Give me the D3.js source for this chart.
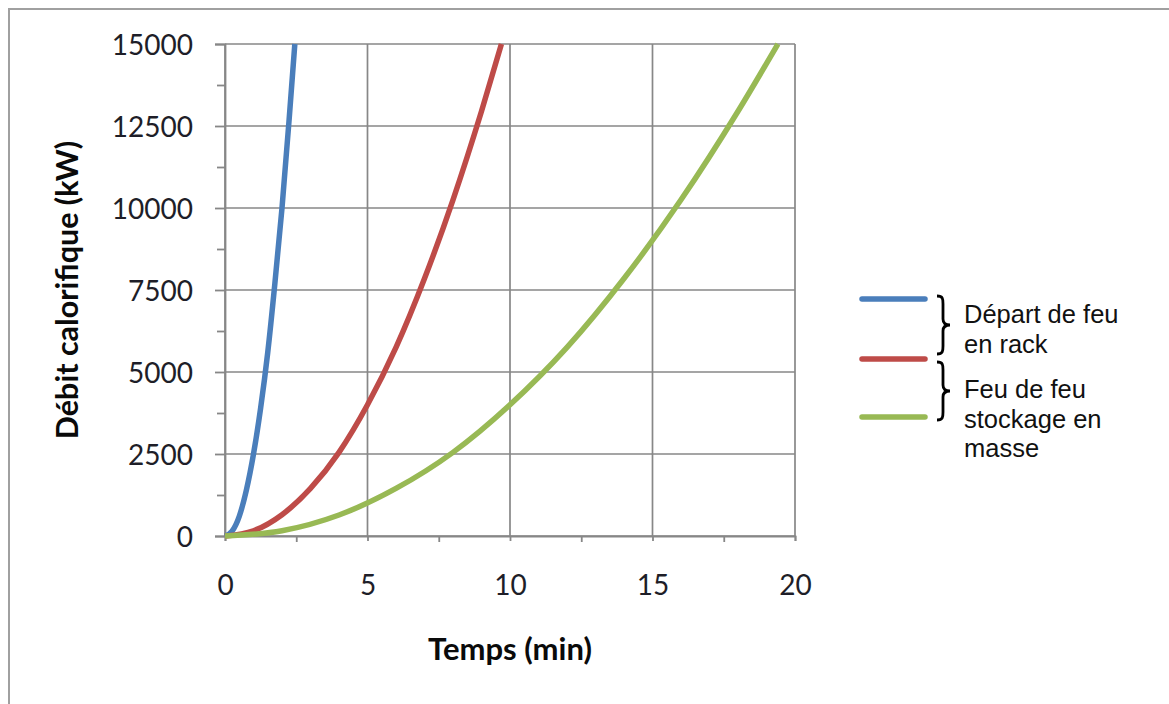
<!DOCTYPE html>
<html>
<head>
<meta charset="utf-8">
<script src="https://cdn.jsdelivr.net/npm/d3@7"></script>
<style>
  body { margin: 0; background: #fff; }
  svg { display: block; }
</style>
</head>
<body>
<div id="chart"></div>
<script>
// values (time in min, heat release in kW)
const rackTime = [0, 0.25, 0.5, 0.75, 1, 1.25, 1.5, 1.75, 2, 2.25, 2.45];
const rackValues = [0, 150, 600, 1400, 2500, 3900, 5600, 7700, 10000, 12700, 15000];

const midTime = [0, 1, 2, 3, 4, 5, 6, 7, 8, 9, 9.7];
const midValues = [0, 160, 650, 1450, 2550, 4000, 5750, 7850, 10250, 12950, 15000];

const massTime = [0, 2, 4, 6, 8, 10, 12, 14, 16, 18, 19.4];
const massValues = [0, 160, 640, 1450, 2550, 4000, 5750, 7850, 10250, 12950, 15000];

const xTicks = [0, 5, 10, 15, 20];
const yTicks = [0, 2500, 5000, 7500, 10000, 12500, 15000];
const legendLabels = [["Départ de feu", "en rack"], ["Feu de feu", "stockage en", "masse"]];

const colors = ['#4a7ebb', '#be4b48', '#98b954'];

const W = 1169, H = 704;
const margin = { top: 44, left: 225, right: 374, bottom: 168 };
const w = W - margin.left - margin.right;
const h = H - margin.top - margin.bottom;

const svg = d3.select('#chart').append('svg')
  .attr('width', W)
  .attr('height', H);

// outer frame (only top and left edges are visible)
svg.append('rect')
  .attr('x', 9).attr('y', 9)
  .attr('width', W + 20).attr('height', H + 20)
  .attr('fill', 'none')
  .attr('stroke', '#a0a0a0')
  .attr('stroke-width', 2);

const g = svg.append('g')
  .attr('transform', `translate(${margin.left},${margin.top})`);

const xScale = d3.scaleLinear().domain([0, 20]).range([0, w]);
const yScale = d3.scaleLinear().domain([0, 15000]).range([h, 0]);

const gridColor = '#878787';

// grid
g.selectAll('.hgrid')
  .data(yTicks)
  .enter()
  .append('line')
  .attr('x1', 0).attr('x2', w)
  .attr('y1', d => yScale(d)).attr('y2', d => yScale(d))
  .attr('stroke', gridColor)
  .attr('stroke-width', 1.7);

g.selectAll('.vgrid')
  .data(xTicks)
  .enter()
  .append('line')
  .attr('y1', 0).attr('y2', h)
  .attr('x1', d => xScale(d)).attr('x2', d => xScale(d))
  .attr('stroke', gridColor)
  .attr('stroke-width', 1.7);

// axes
const xAxis = d3.axisBottom(xScale).tickValues(xTicks).tickSize(5).tickFormat(d3.format('d'));
const yAxis = d3.axisLeft(yScale).tickValues(yTicks).tickSize(10).tickFormat(d3.format('d'));

const xg = g.append('g')
  .attr('transform', `translate(0,${h})`)
  .call(xAxis);

// minor ticks
g.append('g')
  .attr('transform', `translate(0,${h})`)
  .call(d3.axisBottom(xScale).tickValues([2.5, 7.5, 12.5, 17.5]).tickSize(6).tickFormat(''))
  .call(a => a.select('.domain').remove());

const yg = g.append('g').call(yAxis);

g.append('g')
  .call(d3.axisLeft(yScale).tickValues([1250, 3750, 6250, 8750, 11250, 13750]).tickSize(8).tickFormat(''))
  .call(a => a.select('.domain').remove());

g.selectAll('.domain, .tick line')
  .attr('stroke', gridColor)
  .attr('stroke-width', 1.8);

xg.selectAll('text')
  .attr('dy', 0)
  .attr('y', 59)
  .style('font-family', 'Lato, sans-serif')
  .style('font-size', '28px')
  .attr('fill', '#1e1e28');

yg.selectAll('text')
  .attr('x', -32)
  .attr('dy', '0.36em')
  .style('font-family', 'Lato, sans-serif')
  .style('font-size', '28px')
  .attr('fill', '#1e1e28');

// axis titles
svg.append('text')
  .attr('x', margin.left + xScale(10))
  .attr('y', 660)
  .attr('text-anchor', 'middle')
  .style('font-family', 'Lato, sans-serif')
  .style('font-weight', 'bold')
  .style('font-size', '31px')
  .attr('fill', '#0a0a0a')
  .text('Temps (min)');

svg.append('text')
  .attr('transform', `translate(78,${margin.top + yScale(7500)}) rotate(-90)`)
  .attr('text-anchor', 'middle')
  .style('font-family', 'Lato, sans-serif')
  .style('font-weight', 'bold')
  .style('font-size', '30.5px')
  .attr('fill', '#0a0a0a')
  .text('Débit calorifique (kW)');

// curves
const series = [
  rackTime.map((t, i) => [t, rackValues[i]]),
  midTime.map((t, i) => [t, midValues[i]]),
  massTime.map((t, i) => [t, massValues[i]])
];

const line = d3.line()
  .x(d => xScale(d[0]))
  .y(d => yScale(d[1]))
  .curve(d3.curveMonotoneX);

g.selectAll('.curve')
  .data(series)
  .enter()
  .append('path')
  .attr('d', line)
  .attr('fill', 'none')
  .attr('stroke', (d, i) => colors[i])
  .attr('stroke-width', 5.5);

// legend
const legendY = [299, 359, 417];
svg.selectAll('.leg')
  .data(legendY)
  .enter()
  .append('line')
  .attr('x1', 862).attr('x2', 925)
  .attr('y1', d => d).attr('y2', d => d)
  .attr('stroke', (d, i) => colors[i])
  .attr('stroke-width', 5.5)
  .attr('stroke-linecap', 'round');

// braces
function brace(x, y0, y1) {
  const m = (y0 + y1) / 2;
  return `M${x},${y0} C${x + 6},${y0} ${x + 6},${y0 + 3} ${x + 6},${y0 + 8}` +
    ` L${x + 6},${m - 6} C${x + 6},${m - 2} ${x + 8},${m} ${x + 13},${m}` +
    ` C${x + 8},${m} ${x + 6},${m + 2} ${x + 6},${m + 6}` +
    ` L${x + 6},${y1 - 8} C${x + 6},${y1 - 3} ${x + 6},${y1} ${x},${y1}`;
}
svg.append('path')
  .attr('d', brace(937, 296, 354))
  .attr('fill', 'none').attr('stroke', '#000').attr('stroke-width', 2.8);
svg.append('path')
  .attr('d', brace(937, 362, 420))
  .attr('fill', 'none').attr('stroke', '#000').attr('stroke-width', 2.8);

const legendBase = [323, 398];
legendLabels.forEach((lines, k) => {
  svg.append('text')
    .attr('x', 964)
    .attr('y', legendBase[k])
    .style('font-family', '"Liberation Sans", Arial, sans-serif')
    .style('font-size', '25.5px')
    .attr('fill', '#111')
    .selectAll('tspan')
    .data(lines)
    .enter()
    .append('tspan')
    .attr('x', 964)
    .attr('dy', (d, i) => i === 0 ? 0 : 29.5)
    .text(d => d);
});
</script>
</body>
</html>
